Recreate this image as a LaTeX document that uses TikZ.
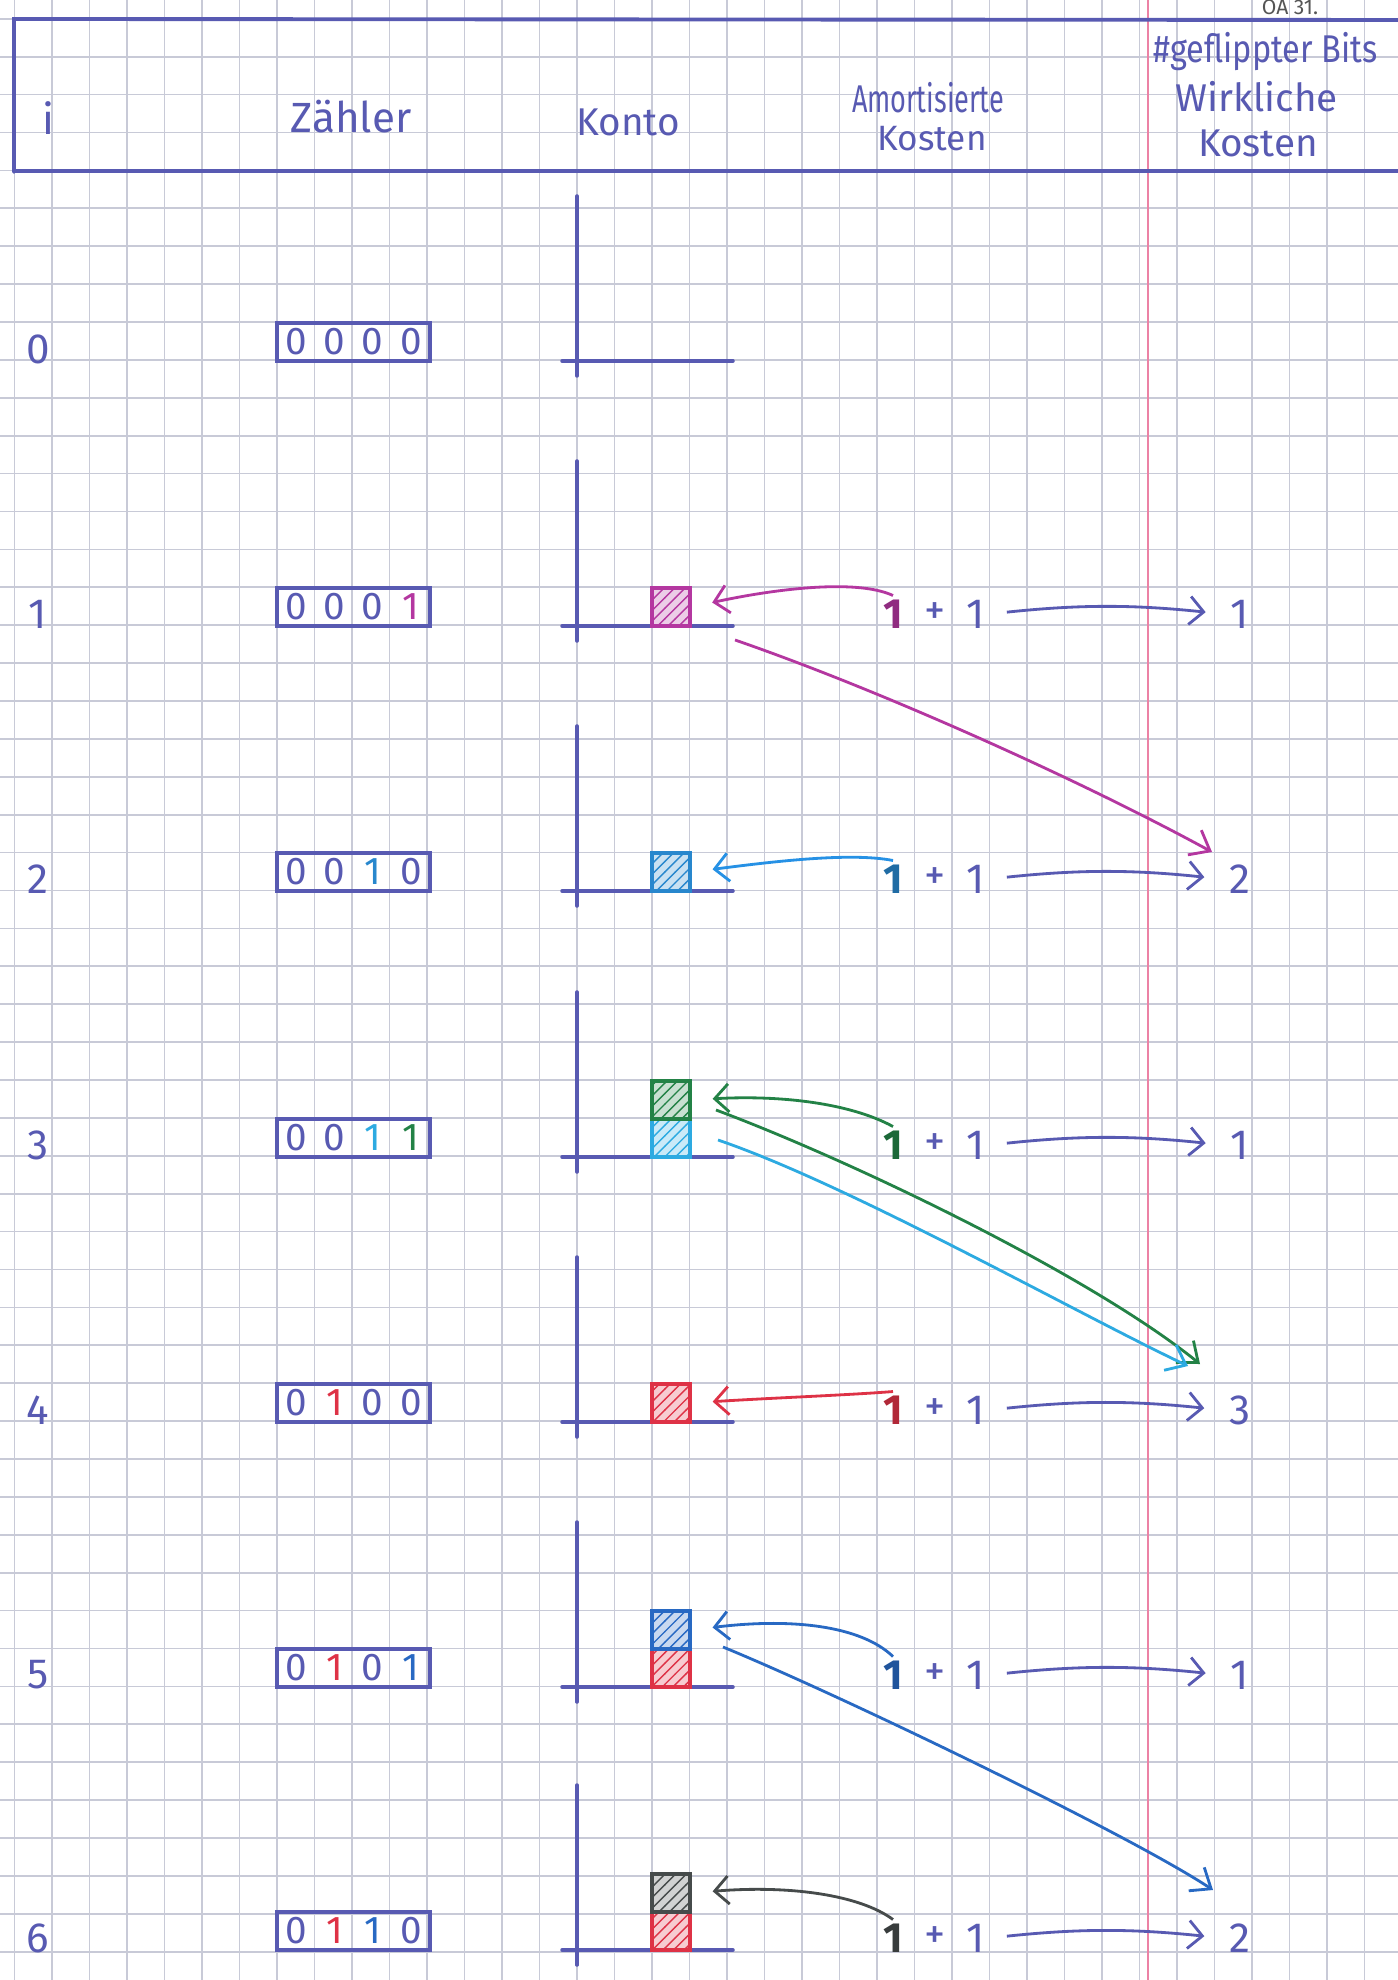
\documentclass[tikz,border=0pt]{standalone}
\usepackage{fontspec}
\setmainfont{Fira Sans}
\usetikzlibrary{arrows.meta,patterns}
\definecolor{ink}{RGB}{88,90,178}
\definecolor{gridc}{RGB}{200,202,215}
\definecolor{margin}{RGB}{236,130,165}
\definecolor{cmag}{RGB}{180,55,160}
\definecolor{cbluetwo}{RGB}{40,135,205}
\definecolor{ccyan}{RGB}{45,170,225}
\definecolor{cgreen}{RGB}{35,130,70}
\definecolor{cred}{RGB}{222,50,70}
\definecolor{cbluefive}{RGB}{40,105,195}
\definecolor{cgray}{RGB}{70,75,75}
\definecolor{pencil}{RGB}{85,85,85}
\tikzset{
  pen/.style={draw=ink, line width=1.1pt, line cap=round},
  cbox/.style={draw=ink, line width=1.2pt, minimum width=1.53cm, minimum height=0.38cm, inner sep=0pt},
  dig/.style={font=\fontsize{11}{13}\selectfont, inner sep=0pt},
  lbl/.style={font=\fontsize{12}{14}\selectfont, text=ink, inner sep=0pt},
  hdr/.style={font=\fontsize{11}{13}\selectfont, text=ink, inner sep=0pt},
  hbar/.style={minimum width=0.38cm, minimum height=0.38cm, inner sep=0pt, line width=0.9pt, draw=#1, fill=#1!25, postaction={pattern=north east lines, pattern color=#1}},
  amt/.style={font=\bfseries\fontsize{12}{14}\selectfont, inner sep=1pt},
  ptxt/.style={font=\fontsize{12}{14}\selectfont, text=ink, inner sep=1pt},
  cost/.style={font=\fontsize{12}{14}\selectfont, text=ink, inner sep=2pt},
  larrow/.style={-{Straight Barb[length=4pt,width=8pt]}, line width=0.8pt, shorten >=6pt},
  rarrow/.style={draw=ink, -{Straight Barb[length=4pt,width=8pt]}, line width=0.8pt, shorten <=5pt, shorten >=5pt},
  longarrow/.style={-{Straight Barb[length=5pt,width=8pt]}, line width=0.8pt},
}
\begin{document}
\begin{tikzpicture}[x=0.01cm,y=-0.01cm]
\useasboundingbox (0,0) rectangle (1398,1980);
\clip (0,0) rectangle (1398,1980);
\fill[white] (0,0) rectangle (1398,1980);
% graph paper
\foreach \k in {0,...,37} \draw[gridc, line width=0.5pt] ({14.5+37.5*\k},0) -- ({14.5+37.5*\k},1980);
\foreach \k in {-1,...,52} \draw[gridc, line width=0.5pt] (0,{18.8+37.9*\k}) -- (1398,{18.8+37.9*\k});
\draw[margin, line width=0.8pt] (1148,0) -- (1148,1980);
% header
\draw[pen] (1398,20) -- (14,19) -- (14,172);
\draw[pen] (14,171) -- (1398,171);
\node[hdr, font=\fontsize{12}{14}\selectfont] (hi) at (48,118) {i};
\node[hdr, font=\fontsize{12}{14}\selectfont] (hz) at (351,117) {Zähler};
\node[hdr] (hk) at (628,122) {Konto};
\node[hdr] (ha1) at (928,98) {\scalebox{0.7}[1]{Amortisierte}};
\node[hdr, font=\fontsize{10}{12}\selectfont] (ha2) at (932,139) {Kosten};
\node[hdr, anchor=west] (hg) at (1153,52) {\scalebox{0.84}[1]{\#geflippter Bits}};
\node[hdr] (hw1) at (1257,97) {Wirkliche};
\node[hdr] (hw2) at (1258,143) {Kosten};
\node[font=\fontsize{6}{7}\selectfont, text=pencil, anchor=base, inner sep=0pt] (oa) at (1290,15) {OA 31.};
% rows: labels, counters, account axes
\foreach \ri/\rB/\dA/\kA/\dB/\kB/\dC/\kC/\dD/\kD in {
 0/361/0/ink/0/ink/0/ink/0/ink,
 1/626/0/ink/0/ink/0/ink/1/cmag,
 2/891/0/ink/0/ink/1/cbluetwo/0/ink,
 3/1157/0/ink/0/ink/1/ccyan/1/cgreen,
 4/1422/0/ink/1/cred/0/ink/0/ink,
 5/1687/0/ink/1/cred/0/ink/1/cbluefive,
 6/1950/0/ink/1/cred/1/cbluefive/0/ink}{
  \node[lbl] (lab\ri) at (38,\rB-12) {\ri};
  \node[cbox] (cnt\ri) at (353.5,\rB-19) {};
  \node[dig,text=\kA] (ca\ri) at (296,\rB-19) {\dA};
  \node[dig,text=\kB] (cb\ri) at (334.5,\rB-19) {\dB};
  \node[dig,text=\kC] (cc\ri) at (372.5,\rB-19) {\dC};
  \node[dig,text=\kD] (cd\ri) at (411,\rB-19) {\dD};
  \draw[pen, line width=1pt] (577,\rB-165) -- (577,\rB+15);
  \draw[pen, line width=1pt] (562,\rB) -- (733,\rB);
}
% amortized and real costs
\foreach \ri/\rB/\rc/\rv in {1/626/cmag/1, 2/891/cbluetwo/2, 3/1157/cgreen/1, 4/1422/cred/3, 5/1687/cbluefive/1, 6/1950/cgray/2}{
  \node[amt, text=\rc!80!black] (am\ri) at (893,\rB-12) {1};
  \node[ptxt] (pl\ri) at (935,\rB-12) {+};
  \node[ptxt] (on\ri) at (976,\rB-12) {1};
  \node[cost] (cost\ri) at (1240,\rB-12) {\rv};
  \draw[rarrow] (on\ri.east) to[bend left=6] (cost\ri.west);
}
% account bars
\node[hbar=cmag] (bar1) at (671,607) {};
\node[hbar=cbluetwo] (bar2) at (671,872) {};
\node[hbar=ccyan] (bar3a) at (671,1138) {};
\node[hbar=cgreen] (bar3b) at (671,1100) {};
\node[hbar=cred] (bar4) at (671,1403) {};
\node[hbar=cred] (bar5a) at (671,1668) {};
\node[hbar=cbluefive] (bar5b) at (671,1630) {};
\node[hbar=cred] (bar6a) at (671,1931) {};
\node[hbar=cgray] (bar6b) at (671,1893) {};
% credit arrows
\draw[larrow, cmag] (am1.north) .. controls (855,578) and (770,590) .. (bar1.east);
\draw[larrow, ccyan!85!blue] (am2.north) .. controls (850,852) and (770,862) .. (bar2.east);
\draw[larrow, cgreen] (am3.north) .. controls (850,1103) and (780,1095) .. (bar3b.east);
\draw[larrow, cred] (am4.north) .. controls (850,1395) and (770,1398) .. (bar4.east);
\draw[larrow, cbluefive] (am5.north) .. controls (860,1625) and (790,1618) .. (bar5b.east);
\draw[larrow, cgray] (am6.north) .. controls (860,1895) and (790,1885) .. (bar6b.east);
% spent credit
\coordinate (m1s) at (735,640);
\coordinate (tip2) at (1212,852);
\coordinate (g3s) at (716,1110);
\coordinate (c3s) at (718,1140);
\coordinate (tip4g) at (1200,1364);
\coordinate (tip4c) at (1188,1366);
\coordinate (b5s) at (723,1647);
\coordinate (tip6) at (1213,1890);
\draw[longarrow, cmag] (m1s) .. controls (880,690) and (1080,780) .. (tip2);
\draw[longarrow, cgreen] (g3s) .. controls (850,1160) and (1090,1275) .. (tip4g);
\draw[longarrow, ccyan] (c3s) .. controls (850,1185) and (1080,1315) .. (tip4c);
\draw[longarrow, cbluefive] (b5s) .. controls (840,1695) and (1130,1835) .. (tip6);
\end{tikzpicture}
\end{document}
